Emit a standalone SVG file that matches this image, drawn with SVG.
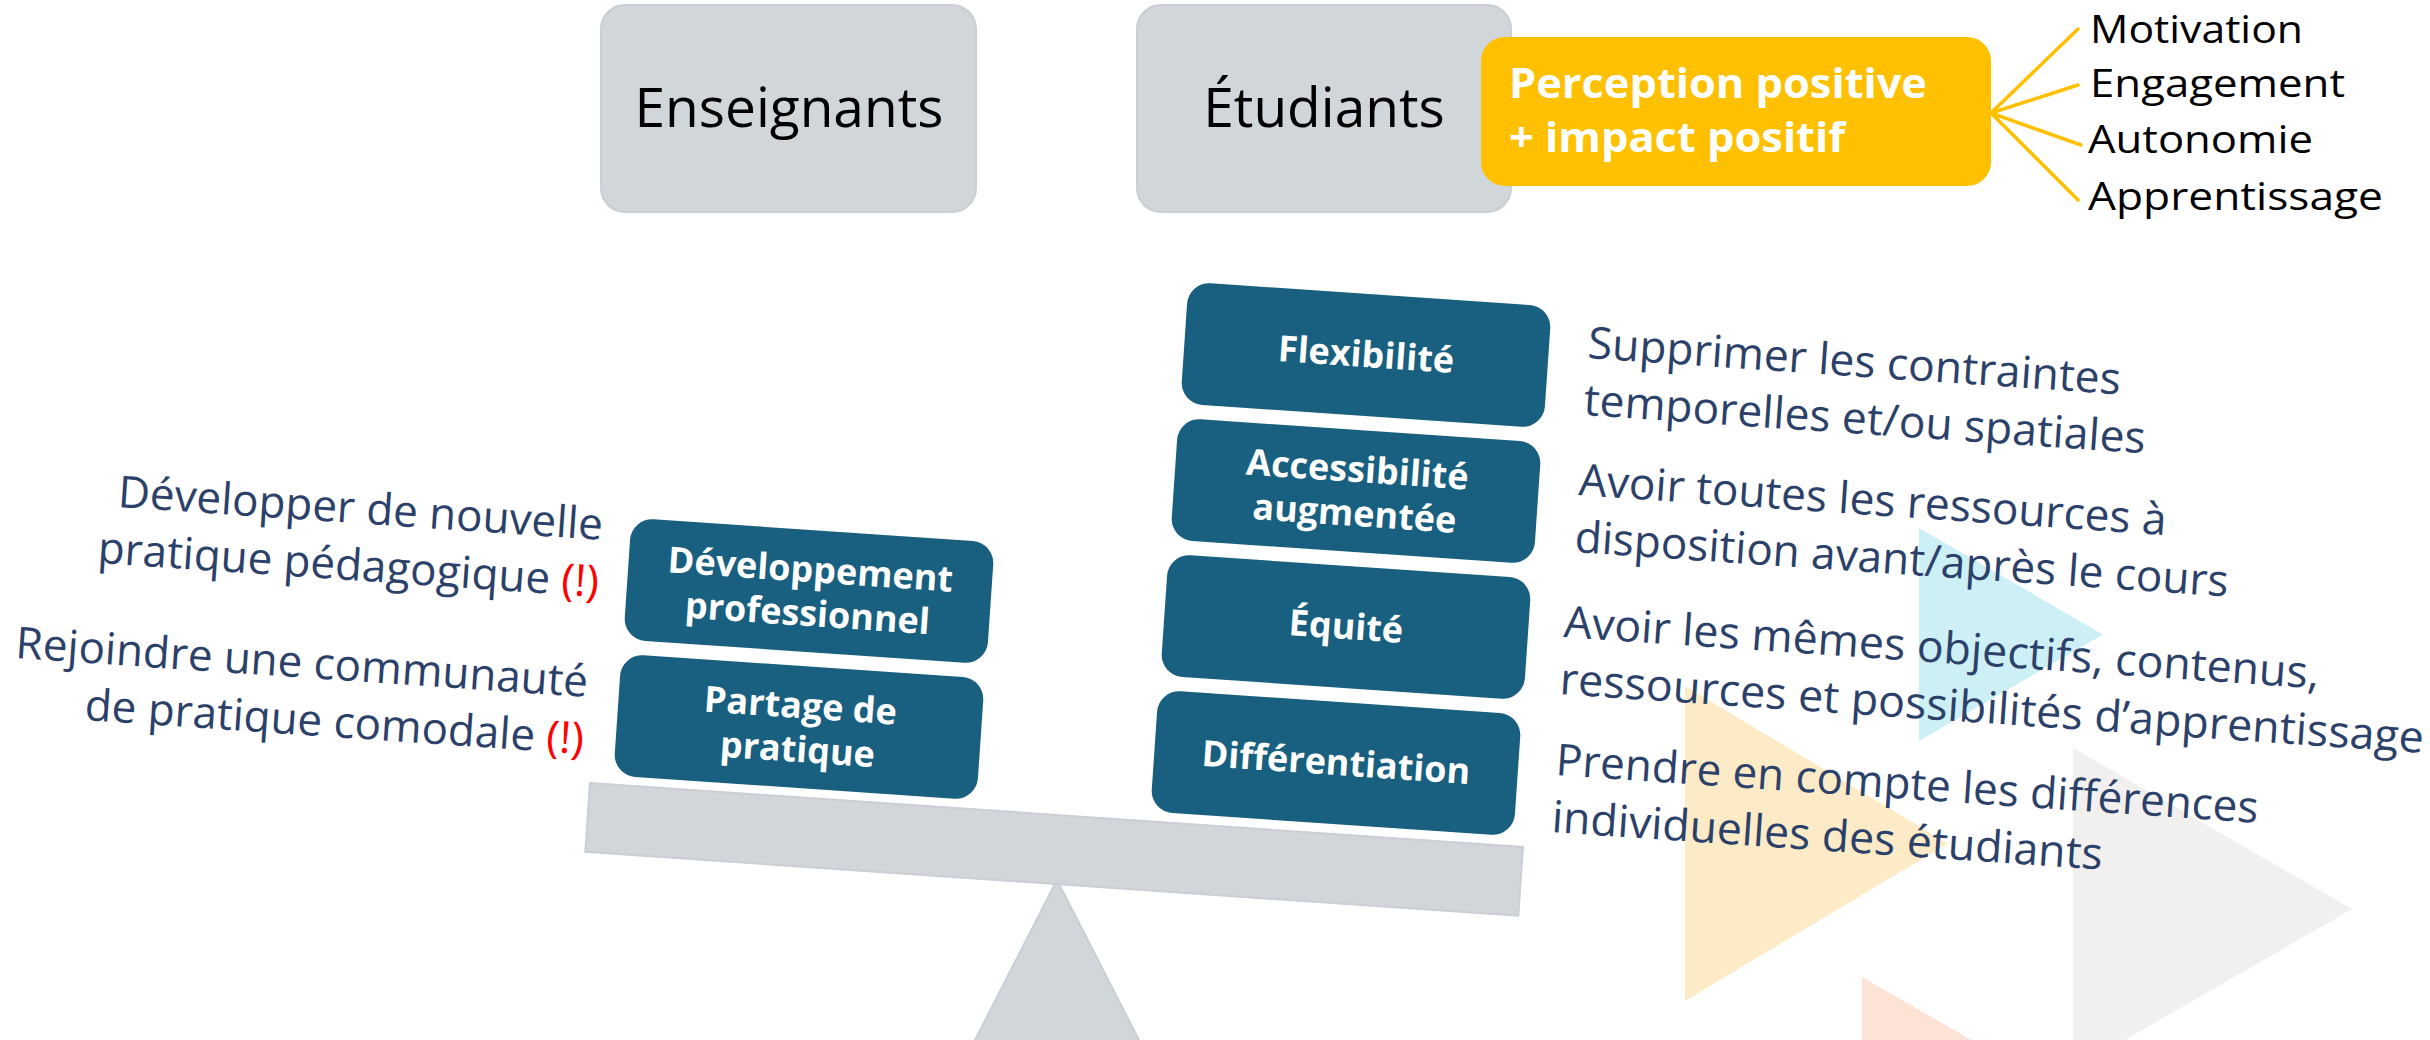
<svg xmlns="http://www.w3.org/2000/svg" width="2430" height="1040" viewBox="0 0 2430 1040">
<style>
text{font-family:'Open Sans','Noto Sans','Liberation Sans',sans-serif}
.grey{fill:#D1D6DB;stroke:#C9CFD5;stroke-width:2}
.teal{fill:#185F80}
.btxt{font-weight:700;font-size:36px;fill:#FFFFFF;text-anchor:middle}
.desc{font-size:44px;fill:#2C4169}
.warn{fill:#FF0000}
.big{font-size:55px;fill:#000000;text-anchor:middle}
.word{font-size:39px;fill:#000000}
.ytxt{font-weight:700;font-size:41px;fill:#FFFFFF}
.fan{stroke:#FFC000;stroke-width:3.5;fill:none;stroke-linecap:round}
</style>
<rect width="2430" height="1040" fill="#FFFFFF"/>
<g id="decor">
<polygon points="1919,528 1919,741 2103,634.5" fill="#CDEFF6"/>
<polygon points="1685,686 1685,1001 1948,843.5" fill="#FDEBC8"/>
<polygon points="2073,748 2073,1070 2352,909" fill="#F1F0EE"/>
<polygon points="1862,977 1862,1227 2079,1102" fill="#FCE3D6"/>
</g>
<g id="fulcrum"><polygon class="grey" points="1057,880 1141,1044 973,1044"/></g>
<g id="beam"><polygon class="grey" points="590,783 1523,847 1518.3,915.8 585.3,851.8"/></g>
<g id="enseignants">
<rect class="grey" x="601" y="5" width="375" height="207" rx="24"/>
<text class="big" x="789" y="127">Enseignants</text>
</g>
<g id="etudiants">
<rect class="grey" x="1137" y="5" width="374" height="207" rx="24"/>
<text class="big" x="1324" y="127">Étudiants</text>
</g>
<g id="perception">
<rect x="1481" y="37" width="510" height="149" rx="24" fill="#FFC000"/>
<text class="ytxt" x="1509" y="98" textLength="418" lengthAdjust="spacingAndGlyphs">Perception positive</text>
<text class="ytxt" x="1509" y="152" textLength="336" lengthAdjust="spacingAndGlyphs">+ impact positif</text>
</g>
<g id="connectors">
<line class="fan" x1="1991" y1="113" x2="2078" y2="29"/>
<line class="fan" x1="1991" y1="113" x2="2078" y2="85"/>
<line class="fan" x1="1991" y1="113" x2="2081" y2="145"/>
<line class="fan" x1="1991" y1="113" x2="2078" y2="200"/>
</g>
<g id="motivation"><text class="word" x="2090" y="43" textLength="213" lengthAdjust="spacingAndGlyphs">Motivation</text></g>
<g id="engagement"><text class="word" x="2090" y="97" textLength="255" lengthAdjust="spacingAndGlyphs">Engagement</text></g>
<g id="autonomie"><text class="word" x="2088" y="153" textLength="225" lengthAdjust="spacingAndGlyphs">Autonomie</text></g>
<g id="apprentissage"><text class="word" x="2088" y="210" textLength="295" lengthAdjust="spacingAndGlyphs">Apprentissage</text></g>
<g id="developpement" transform="translate(809,591) rotate(3.9)">
<rect class="teal" x="-182" y="-61" width="364" height="122" rx="22"/>
<text class="btxt" x="0" y="-9">Développement</text>
<text class="btxt" x="0" y="35">professionnel</text>
</g>
<g id="partage" transform="translate(799,727) rotate(3.9)">
<rect class="teal" x="-182" y="-61" width="364" height="122" rx="22"/>
<text class="btxt" x="0" y="-9">Partage de</text>
<text class="btxt" x="0" y="35">pratique</text>
</g>
<g id="flexibilite" transform="translate(1366,355) rotate(3.9)">
<rect class="teal" x="-182" y="-61" width="364" height="122" rx="22"/>
<text class="btxt" x="0" y="12">Flexibilité</text>
</g>
<g id="accessibilite" transform="translate(1356,491) rotate(3.9)">
<rect class="teal" x="-182" y="-61" width="364" height="122" rx="22"/>
<text class="btxt" x="0" y="-9">Accessibilité</text>
<text class="btxt" x="0" y="35">augmentée</text>
</g>
<g id="equite" transform="translate(1346,627) rotate(3.9)">
<rect class="teal" x="-182" y="-61" width="364" height="122" rx="22"/>
<text class="btxt" x="0" y="12">Équité</text>
</g>
<g id="differentiation" transform="translate(1336,763) rotate(3.9)">
<rect class="teal" x="-182" y="-61" width="364" height="122" rx="22"/>
<text class="btxt" x="0" y="12">Différentiation</text>
</g>
<g id="desc-developper" text-anchor="end">
<text class="desc" transform="translate(602,540) rotate(3.9)">Développer de nouvelle</text>
<text class="desc" transform="translate(598,597) rotate(3.9)">pratique pédagogique <tspan class="warn">(!)</tspan></text>
</g>
<g id="desc-rejoindre" text-anchor="end">
<text class="desc" transform="translate(587,697) rotate(3.9)">Rejoindre une communauté</text>
<text class="desc" transform="translate(583,754) rotate(3.9)">de pratique comodale <tspan class="warn">(!)</tspan></text>
</g>
<g id="desc-flexibilite">
<text class="desc" transform="translate(1587,358) rotate(3.9)" textLength="534" lengthAdjust="spacingAndGlyphs">Supprimer les contraintes</text>
<text class="desc" transform="translate(1583,415) rotate(3.9)" textLength="563" lengthAdjust="spacingAndGlyphs">temporelles et/ou spatiales</text>
</g>
<g id="desc-accessibilite">
<text class="desc" transform="translate(1578,495) rotate(3.9)" textLength="589" lengthAdjust="spacingAndGlyphs">Avoir toutes les ressources à</text>
<text class="desc" transform="translate(1574,552) rotate(3.9)" textLength="655" lengthAdjust="spacingAndGlyphs">disposition avant/après le cours</text>
</g>
<g id="desc-equite">
<text class="desc" transform="translate(1563,637) rotate(3.9)" textLength="757" lengthAdjust="spacingAndGlyphs">Avoir les mêmes objectifs, contenus,</text>
<text class="desc" transform="translate(1559,694) rotate(3.9)" textLength="866" lengthAdjust="spacingAndGlyphs">ressources et possibilités d’apprentissage</text>
</g>
<g id="desc-differentiation">
<text class="desc" transform="translate(1555,775) rotate(3.9)" textLength="704" lengthAdjust="spacingAndGlyphs">Prendre en compte les différences</text>
<text class="desc" transform="translate(1551,832) rotate(3.9)" textLength="552" lengthAdjust="spacingAndGlyphs">individuelles des étudiants</text>
</g>
</svg>
